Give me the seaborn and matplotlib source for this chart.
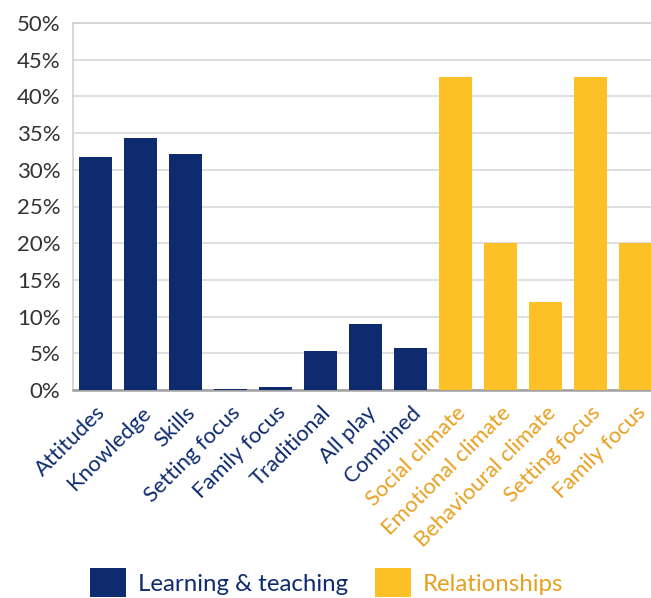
import matplotlib
matplotlib.use("Agg")
import matplotlib.pyplot as plt
import matplotlib.transforms as mtransforms
from matplotlib.patches import Patch
from matplotlib.ticker import FixedLocator, MultipleLocator, PercentFormatter
import seaborn as sns
import pandas as pd

# Categories and shares (%) for the two groups of approaches
learning_labels = ["Attitudes", "Knowledge", "Skills", "Setting focus", "Family focus",
                   "Traditional", "All play", "Combined"]
learning_values = [31.7, 34.3, 32.1, 0.2, 0.4, 5.3, 9.0, 5.7]

relationship_labels = ["Social climate", "Emotional climate", "Behavioural climate",
                       "Setting focus", "Family focus"]
relationship_values = [42.6, 20.0, 12.0, 42.6, 20.0]

group_names = ["Learning & teaching", "Relationships"]

NAVY = "#0d2b6e"
YELLOW = "#fdc027"
ORANGE = "#e8a020"

labels = learning_labels + relationship_labels
df = pd.DataFrame({
    "pos": list(range(len(labels))),
    "value": learning_values + relationship_values,
    "group": [group_names[0]] * len(learning_labels) + [group_names[1]] * len(relationship_labels),
})

sns.set_style("white")
plt.rcParams["font.family"] = ["Lato", "DejaVu Sans"]

fig = plt.figure(figsize=(6.51, 5.98), dpi=100)
ax = fig.add_axes([73 / 651, 208 / 598, 585 / 651, 367 / 598])

sns.barplot(data=df, x="pos", y="value", hue="group", dodge=False,
            palette={group_names[0]: NAVY, group_names[1]: YELLOW},
            width=0.73, saturation=1, linewidth=0, legend=False, ax=ax, zorder=3)

ax.set_xlim(-0.5, len(labels) - 0.5)
ax.set_ylim(0, 50)
ax.yaxis.set_major_locator(MultipleLocator(5))
ax.yaxis.set_major_formatter(PercentFormatter(decimals=0))
ax.grid(axis="y", color="#d9d9d9", linewidth=1.2, zorder=0)
ax.set_xlabel("")
ax.set_ylabel("")

# Category labels, rotated and coloured by group
ax.set_xticks(range(len(labels)))
ax.set_xticklabels(labels, rotation=45, ha="right", rotation_mode="anchor", fontsize=15.8)
shift = mtransforms.ScaledTranslation(-0.06, 0, fig.dpi_scale_trans)
for i, t in enumerate(ax.get_xticklabels()):
    t.set_color(NAVY if i < len(learning_labels) else ORANGE)
    t.set_transform(t.get_transform() + shift)
ax.tick_params(axis="x", which="major", length=0, pad=9)
ax.xaxis.set_minor_locator(FixedLocator([i + 0.5 for i in range(len(labels))]))
ax.tick_params(axis="x", which="minor", length=8, color="#c8c8c8", width=1.2)
ax.tick_params(axis="y", length=0, labelsize=16, labelcolor="#333333", pad=9)

for side in ["top", "left"]:
    ax.spines[side].set_color("#d0d0d0")
    ax.spines[side].set_linewidth(1.2)
ax.spines["bottom"].set_color("#a0a0a0")
ax.spines["bottom"].set_linewidth(1.8)
ax.spines["right"].set_visible(False)

handles = [Patch(facecolor=NAVY, linewidth=0), Patch(facecolor=YELLOW, linewidth=0)]
leg = fig.legend(handles, group_names, loc="upper left", bbox_to_anchor=(90 / 651, 1 - 568 / 598),
                 ncol=2, frameon=False, fontsize=17.3, handlelength=1.5, handleheight=1.5,
                 handletextpad=0.5, columnspacing=1.1, borderpad=0, borderaxespad=0)
leg.get_texts()[0].set_color(NAVY)
leg.get_texts()[1].set_color(ORANGE)

fig.savefig("out.png", dpi=100)
